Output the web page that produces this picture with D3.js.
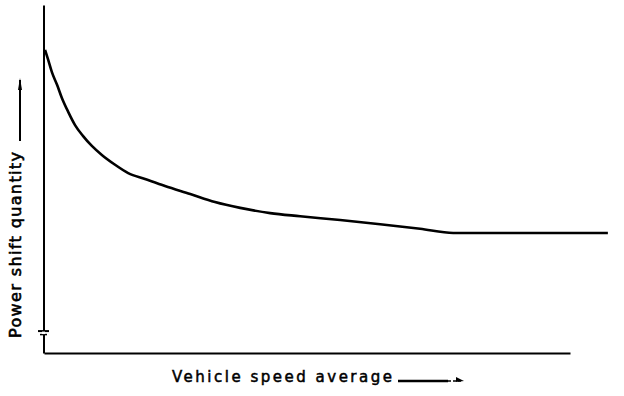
<!DOCTYPE html>
<html>
<head>
<meta charset="utf-8">
<script src="https://cdn.jsdelivr.net/npm/d3@7"></script>
<style>
  html, body { margin: 0; padding: 0; background: #fff; }
  svg { display: block; }
</style>
</head>
<body>
<div id="chart"></div>
<script>

// curve (arbitrary units, 0..100 on each axis)
var speedAvg = [0.2, 0.8, 1.5, 2.5, 3.4, 4.6, 5.9, 7.4, 9.1, 11.0, 13.3, 16.0, 19.2, 23.0, 27.8, 32.5, 37.3, 43.0, 48.7, 56.3, 63.9, 71.5, 77.8, 107.2];
var shiftQty = [87.1, 84.2, 80.7, 77.0, 73.3, 69.3, 65.5, 62.4, 59.5, 56.9, 54.3, 51.7, 50.0, 48.0, 45.7, 43.4, 41.7, 40.2, 39.3, 38.2, 37.0, 35.7, 34.5, 34.5];

var xLabel = "Vehicle speed average";
var yLabel = "Power shift quantity";
var axisBreak = 6.3;

function patentChart(value) {

    // reset svg
    d3.select(value.id).html("");

    var svg = d3.select(value.id)
        .append("svg")
        .attr("width", value.width)
        .attr("height", value.height);

    var x = d3.scaleLinear()
        .domain([0, 100])
        .range([44, 570]);

    var y = d3.scaleLinear()
        .domain([0, 100])
        .range([353, 5]);

    // axes: bare lines, no ticks
    var xaxis = svg.append("g")
        .attr("transform", "translate(0,353)")
        .call(d3.axisBottom(x).ticks(0).tickSize(0).tickSizeOuter(0));

    var yaxis = svg.append("g")
        .attr("transform", "translate(43.5,0)")
        .call(d3.axisLeft(y).ticks(0).tickSize(0).tickSizeOuter(0));

    [xaxis, yaxis].forEach(function (a) {
        a.selectAll("path")
            .style("stroke", "#000")
            .style("stroke-width", 2);
        a.selectAll("text").remove();
    });

    // break mark near the bottom of the y axis
    var by = y(axisBreak);
    svg.append("line")
        .attr("x1", 38).attr("x2", 49)
        .attr("y1", by).attr("y2", by)
        .attr("stroke", "#000").attr("stroke-width", 2);
    svg.append("line")
        .attr("x1", 40).attr("x2", 47)
        .attr("y1", by + 3.5).attr("y2", by + 3.5)
        .attr("stroke", "#000").attr("stroke-width", 1.5);
    svg.append("line")
        .attr("x1", 43.5).attr("x2", 43.5)
        .attr("y1", by + 0.5).attr("y2", by + 3)
        .attr("stroke", "#fff").attr("stroke-width", 3);

    // the curve
    var pts = speedAvg.map(function (d, i) { return [d, shiftQty[i]]; });
    svg.append("path")
        .datum(pts)
        .attr("fill", "none")
        .attr("stroke", "#000")
        .attr("stroke-width", 2.6)
        .attr("stroke-linejoin", "round")
        .attr("d", d3.line()
            .x(function (d) { return x(d[0]) })
            .y(function (d) { return y(d[1]) })
            .curve(d3.curveMonotoneX)
        );

    // x label + arrow
    svg.append("text")
        .attr("x", 172)
        .attr("y", 382)
        .attr("textLength", 220)
        .attr("lengthAdjust", "spacing")
        .style("font", "15px 'DejaVu Sans', sans-serif")
        .style("fill", "#000")
        .style("stroke", "#000")
        .style("stroke-width", 0.5)
        .text(xLabel);

    svg.append("line")
        .attr("x1", 398).attr("x2", 448)
        .attr("y1", 381).attr("y2", 381)
        .attr("stroke", "#000").attr("stroke-width", 2.5);
    svg.append("line")
        .attr("x1", 448).attr("x2", 463)
        .attr("y1", 381).attr("y2", 381)
        .attr("stroke", "#000").attr("stroke-width", 1.5)
        .attr("stroke-dasharray", "3,2");
    svg.append("path")
        .attr("d", "M456,377 L464,381 L456,382 Z")
        .attr("fill", "#000");

    // y label + arrow
    svg.append("text")
        .attr("transform", "translate(21,338) rotate(-90)")
        .attr("textLength", 186)
        .attr("lengthAdjust", "spacing")
        .style("font", "16px 'DejaVu Sans', sans-serif")
        .style("fill", "#000")
        .style("stroke", "#000")
        .style("stroke-width", 0.6)
        .text(yLabel);

    svg.append("line")
        .attr("x1", 20).attr("x2", 20)
        .attr("y1", 141).attr("y2", 80)
        .attr("stroke", "#000").attr("stroke-width", 2);
    svg.append("path")
        .attr("d", "M18,90 L20,78 L22,90 Z")
        .attr("fill", "#000");
}

patentChart({ id: "#chart", width: 624, height: 396 });

</script>
</body>
</html>
